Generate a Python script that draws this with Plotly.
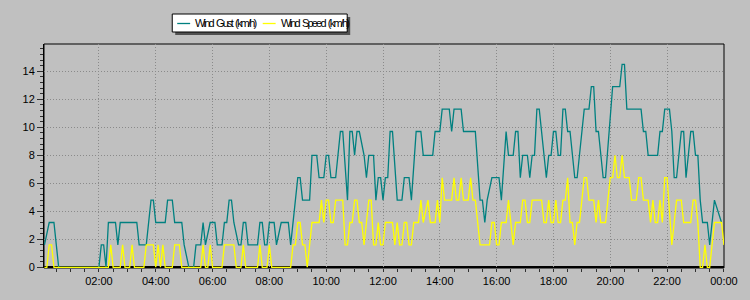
import pandas as pd
import plotly.graph_objects as go

# ---- data (minutes after midnight, km/h) ----
gust_minutes = [5, 15, 25, 35, 120, 125, 130, 135, 140, 155, 160, 165, 200, 205, 220, 230, 235, 240, 260, 265,
                275, 280, 295, 300, 310, 320, 325, 335, 340, 345, 355, 365, 370, 380, 385, 390, 395, 400, 405, 415,
                420, 425, 430, 435, 455, 460, 465, 470, 475, 480, 490, 495, 505, 520, 525, 540, 545, 550, 565, 570,
                580, 585, 595, 600, 605, 610, 620, 625, 630, 635, 645, 650, 655, 660, 665, 670, 680, 685, 690, 700,
                705, 710, 715, 720, 725, 730, 735, 740, 750, 760, 765, 775, 780, 790, 800, 805, 825, 830, 840, 845,
                860, 865, 870, 885, 890, 915, 925, 930, 935, 940, 950, 965, 970, 980, 985, 995, 1000, 1005, 1010,
                1015, 1025, 1030, 1035, 1040, 1045, 1050, 1055, 1065, 1070, 1075, 1080, 1085, 1090, 1095, 1100,
                1105, 1110, 1115, 1125, 1130, 1145, 1155, 1160, 1165, 1170, 1175, 1185, 1190, 1205, 1220, 1225,
                1230, 1235, 1265, 1270, 1275, 1280, 1300, 1305, 1310, 1315, 1325, 1330, 1335, 1340, 1350, 1355,
                1360, 1370, 1375, 1380, 1385, 1390, 1395, 1405, 1410, 1420, 1435]
gust_kmh = [1.6, 3.2, 3.2, 0, 0, 1.6, 1.6, 0, 3.2, 3.2, 1.6, 3.2, 3.2, 1.6, 1.6, 4.8, 4.8, 3.2, 3.2, 4.8,
            4.8, 3.2, 3.2, 1.6, 0, 0, 1.6, 1.6, 3.2, 1.6, 3.2, 3.2, 1.6, 1.6, 3.2, 3.2, 4.8, 4.8, 3.2, 1.6,
            1.6, 3.2, 3.2, 1.6, 1.6, 3.2, 3.2, 1.6, 1.6, 3.2, 3.2, 1.6, 3.2, 3.2, 1.6, 6.4, 6.4, 4.8, 4.8, 8.0,
            8.0, 6.4, 6.4, 8.0, 8.0, 6.4, 6.4, 8.0, 9.7, 9.7, 4.8, 9.7, 9.7, 8.0, 9.7, 9.7, 8.0, 6.4, 8.0, 8.0,
            4.8, 6.4, 6.4, 4.8, 6.4, 6.4, 9.7, 9.7, 4.8, 4.8, 6.4, 6.4, 4.8, 9.7, 9.7, 8.0, 8.0, 9.7, 9.7, 11.3,
            11.3, 9.7, 11.3, 11.3, 9.7, 9.7, 4.8, 4.8, 3.2, 4.8, 6.4, 6.4, 4.8, 9.7, 8.0, 8.0, 9.7, 9.7, 6.4,
            8.0, 8.0, 6.4, 8.0, 8.0, 11.3, 11.3, 9.7, 6.4, 8.0, 8.0, 9.7, 9.7, 8.0, 8.0, 11.3,
            11.3, 9.7, 9.7, 6.4, 6.4, 11.3, 11.3, 12.9, 12.9, 9.7, 9.7, 6.4, 6.4, 12.9, 12.9, 14.5,
            14.5, 11.3, 11.3, 9.7, 9.7, 8.0, 8.0, 9.7, 9.7, 11.3, 11.3, 9.7, 6.4, 6.4, 9.7, 9.7,
            6.4, 9.7, 9.7, 8.0, 8.0, 4.8, 3.2, 3.2, 1.6, 4.8, 3.2]

speed_minutes = [5, 10, 15, 20, 25, 140, 145, 150, 165, 170, 175, 185, 190, 195, 215, 220, 235, 240, 245, 250,
                 255, 260, 275, 280, 290, 295, 335, 340, 345, 350, 355, 360, 380, 385, 405, 410, 420, 425, 430,
                 455, 460, 465, 475, 480, 485, 525, 530, 535, 540, 545, 550, 555, 560, 570, 585, 590, 595, 600,
                 605, 610, 615, 620, 635, 640, 645, 650, 655, 660, 665, 670, 675, 680, 685, 690, 695, 700, 705,
                 710, 715, 720, 725, 740, 745, 750, 755, 760, 765, 770, 775, 780, 785, 795, 800, 805, 815, 820,
                 830, 835, 840, 845, 850, 865, 870, 875, 880, 885, 890, 900, 905, 910, 915, 920, 925, 945, 950,
                 955, 960, 965, 970, 980, 985, 990, 995, 1000, 1010, 1015, 1020, 1025, 1030, 1035, 1055, 1060,
                 1065, 1070, 1075, 1080, 1085, 1090, 1095, 1100, 1105, 1110, 1115, 1120, 1125, 1130, 1135, 1145,
                 1150, 1155, 1165, 1170, 1175, 1180, 1190, 1200, 1205, 1210, 1215, 1220, 1225, 1230, 1240, 1245,
                 1255, 1260, 1265, 1270, 1280, 1285, 1290, 1295, 1300, 1305, 1310, 1315, 1320, 1330, 1335, 1340,
                 1350, 1355, 1370, 1375, 1380, 1385, 1390, 1395, 1400, 1405, 1410, 1415, 1420, 1435, 1440]
speed_kmh = [0, 0, 1.6, 1.6, 0, 0, 1.6, 0, 0, 1.6, 0, 0, 1.6, 0, 0, 1.6, 1.6, 0, 1.6, 0,
             1.6, 0, 0, 1.6, 1.6, 0, 0, 1.6, 0, 0, 1.6, 0, 0, 1.6, 1.6, 0, 0, 1.6, 0,
             0, 1.6, 0, 0, 1.6, 0, 0, 1.6, 1.6, 3.2, 3.2, 1.6, 1.6, 0, 3.2, 3.2, 4.8, 3.2, 4.8,
             4.8, 3.2, 3.2, 4.8, 4.8, 1.6, 1.6, 3.2, 3.2, 4.8, 4.8, 3.2, 3.2, 1.6, 3.2, 4.8, 4.8, 1.6, 1.6,
             3.2, 1.6, 1.6, 3.2, 3.2, 1.6, 3.2, 1.6, 1.6, 3.2, 3.2, 1.6, 1.6, 3.2, 3.2, 4.8, 3.2, 4.8, 3.2,
             3.2, 4.8, 3.2, 6.4, 4.8, 4.8, 6.4, 4.8, 4.8, 6.4, 4.8, 4.8, 6.4, 4.8, 4.8, 3.2, 1.6, 1.6, 3.2,
             3.2, 1.6, 1.6, 3.2, 3.2, 4.8, 3.2, 1.6, 3.2, 3.2, 4.8, 4.8, 3.2, 3.2, 4.8, 4.8, 3.2,
             3.2, 4.8, 3.2, 3.2, 4.8, 3.2, 3.2, 4.8, 4.8, 6.4, 3.2, 3.2, 1.6, 3.2, 3.2, 6.4,
             6.4, 4.8, 4.8, 3.2, 4.8, 3.2, 3.2, 6.4, 6.4, 8.0, 6.4, 6.4, 8.0, 6.4, 6.4, 4.8,
             4.8, 6.4, 6.4, 4.8, 4.8, 3.2, 4.8, 3.2, 3.2, 4.8, 3.2, 6.4, 6.4, 1.6, 3.2, 4.8,
             4.8, 3.2, 3.2, 4.8, 4.8, 3.2, 0, 0, 1.6, 0, 0, 1.6, 3.2, 3.2, 1.6]

series_names = ["Wind Gust (km/h)", "Wind Speed (km/h)"]
series_colors = ["#008080", "#ffff00"]

base_day = pd.Timestamp("2024-01-01")
def to_time(mins):
    return [base_day + pd.Timedelta(minutes=m) for m in mins]

fig = go.Figure()
fig.add_trace(go.Scatter(x=to_time(gust_minutes), y=gust_kmh, mode="lines", name=series_names[0],
                         line=dict(color=series_colors[0], width=1.3), showlegend=False))
fig.add_trace(go.Scatter(x=to_time(speed_minutes), y=speed_kmh, mode="lines", name=series_names[1],
                         line=dict(color=series_colors[1], width=1.3), showlegend=False))

W, H = 750, 300
ML, MR, MT, MB = 44, 22, 44, 32
PW, PH = W - ML - MR, H - MT - MB
def px(x):
    return (x - ML) / PW
def py(y):
    return (H - MB - y) / PH

grid = "#8a8a8a"
tickfont = dict(family="Liberation Sans, Arial, sans-serif", size=11, color="black")

fig.update_layout(
    width=W, height=H,
    margin=dict(l=ML, r=MR, t=MT, b=MB),
    paper_bgcolor="#c0c0c0", plot_bgcolor="#c0c0c0",
    xaxis=dict(type="date",
               range=[base_day + pd.Timedelta(minutes=4), base_day + pd.Timedelta(minutes=1440.2)],
               tickformat="%H:%M", dtick=7200000, tick0=base_day,
               ticks="outside", ticklen=3, tickcolor="#303030",
               minor=dict(dtick=1800000, ticks="outside", ticklen=3, tickcolor="#303030", showgrid=False),
               showgrid=True, gridcolor=grid, griddash="1px,2px", gridwidth=1,
               showline=False, zeroline=False, tickfont=tickfont),
    yaxis=dict(range=[-0.05, 15.95], dtick=2, tick0=0,
               ticks="outside", ticklen=6, tickcolor="#303030",
               minor=dict(dtick=0.4, ticks="outside", ticklen=3, tickcolor="#303030", showgrid=False),
               showgrid=True, gridcolor=grid, griddash="1px,2px", gridwidth=1,
               showline=True, linecolor="black", linewidth=1, zeroline=False, tickfont=tickfont),
)

shapes = []
# plot frame
shapes.append(dict(type="rect", xref="paper", yref="paper", x0=0, x1=1, y0=0, y1=1,
                   line=dict(color="black", width=1), fillcolor="rgba(0,0,0,0)", layer="below"))
# heavy baseline at zero
shapes.append(dict(type="line", xref="paper", yref="y", x0=0, x1=1, y0=0, y1=0,
                   line=dict(color="black", width=2.5), layer="below"))
# legend box with shadow
shapes.append(dict(type="rect", xref="paper", yref="paper", x0=px(176), x1=px(352), y0=py(35), y1=py(17),
                   line=dict(width=0), fillcolor="#505050", layer="above"))
shapes.append(dict(type="rect", xref="paper", yref="paper", x0=px(173), x1=px(349), y0=py(32), y1=py(14),
                   line=dict(color="black", width=1), fillcolor="white", layer="above"))
shapes.append(dict(type="line", xref="paper", yref="paper", x0=px(178), x1=px(191), y0=py(23.5), y1=py(23.5),
                   line=dict(color=series_colors[0], width=1.3), layer="above"))
shapes.append(dict(type="line", xref="paper", yref="paper", x0=px(264), x1=px(277), y0=py(23.5), y1=py(23.5),
                   line=dict(color=series_colors[1], width=1.3), layer="above"))
fig.update_layout(shapes=shapes)

legfont = dict(family="Liberation Sans, Arial, sans-serif", size=11, color="black")
def squeeze(label):
    return " ".join('<span style="letter-spacing:-1.8px">' + w + '</span>' for w in label.split(" "))
for name, xl in zip(series_names, [194.5, 281.5]):
    fig.add_annotation(x=px(xl), y=py(23.5), xref="paper", yref="paper",
                       text=squeeze(name),
                       showarrow=False, xanchor="left", yanchor="middle", font=legfont, borderpad=0)

fig.write_html("out.html")
